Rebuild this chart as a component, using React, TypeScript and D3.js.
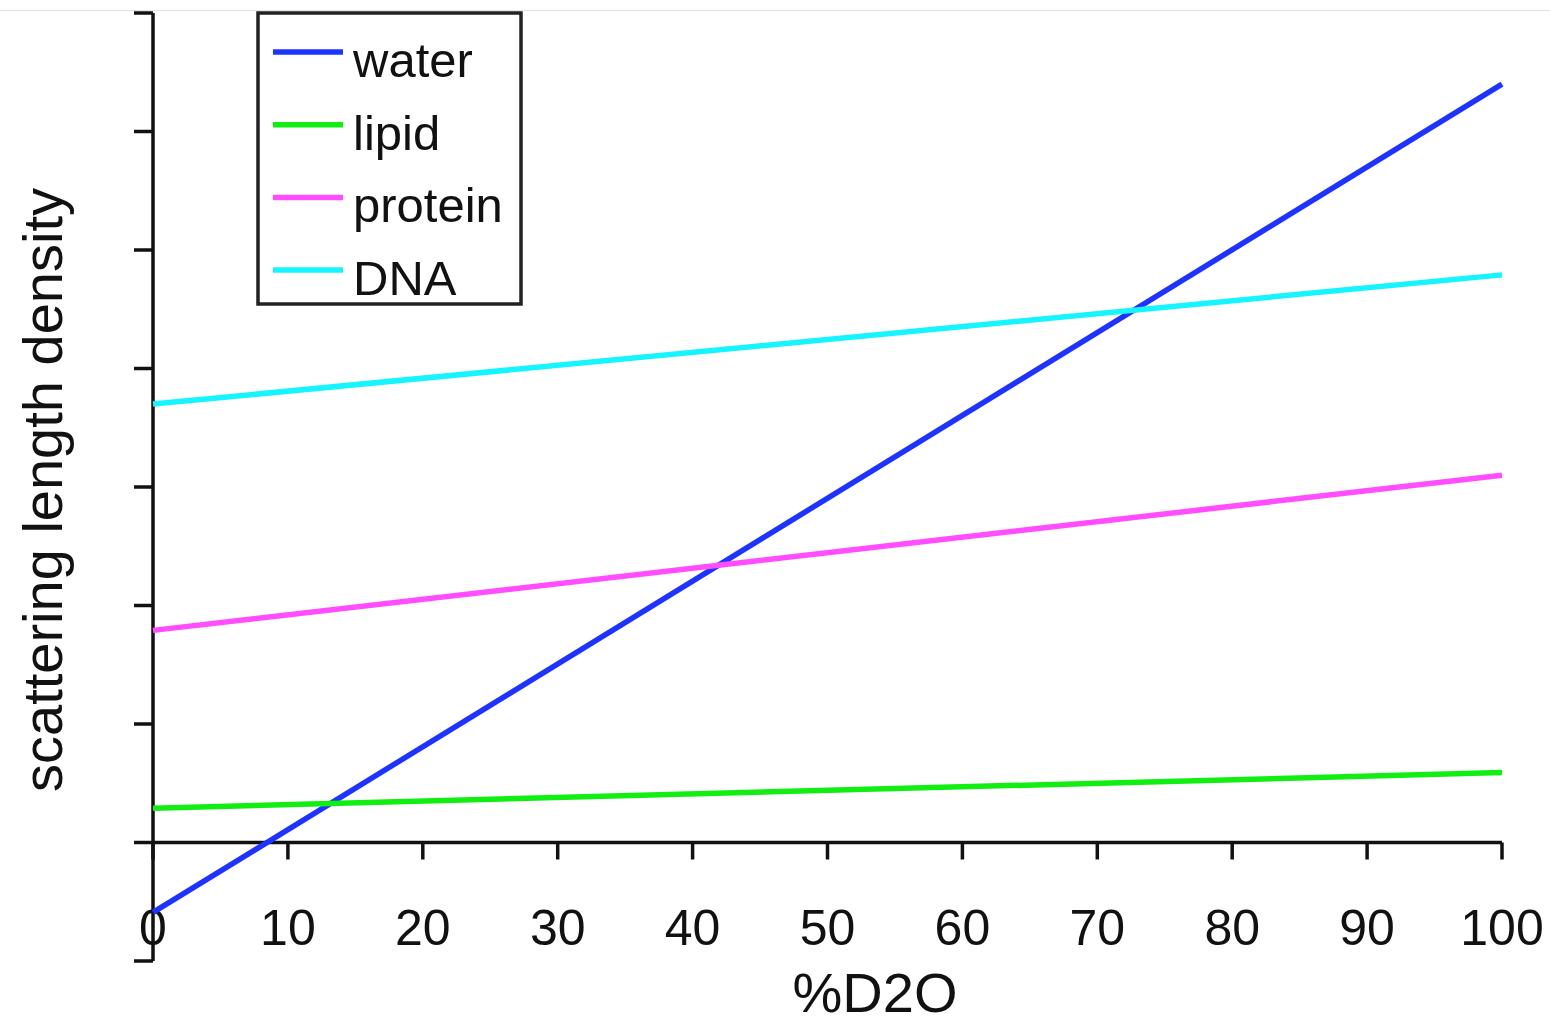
import React from 'react';
import * as d3 from 'd3';

// % D2O at the two ends of each line
const d2o = [0, 100];
const series = ['water', 'lipid', 'protein', 'DNA'];
const waterSld = [-0.59, 6.4];
const lipidSld = [0.29, 0.59];
const proteinSld = [1.79, 3.1];
const dnaSld = [3.7, 4.79];
const colors = ['#1f33ff', '#11ee11', '#ff4dff', '#16f5ff'];
const xTicks = [0, 10, 20, 30, 40, 50, 60, 70, 80, 90, 100];
const yTicks = [-1, 0, 1, 2, 3, 4, 5, 6, 7];

const W = 1550;
const H = 1023;
const font = '"Liberation Sans", Arial, sans-serif';

const App = () => {
  const x = d3.scaleLinear().domain([0, 100]).range([153, 1502]);
  const y = d3.scaleLinear().domain([-1, 7]).range([961, 13]);

  const values = [waterSld, lipidSld, proteinSld, dnaSld];
  const line = d3.line<[number, number]>()
    .x(d => x(d[0]))
    .y(d => y(d[1]));

  return (
    <svg width={W} height={H} style={{ position: 'absolute', left: 0, top: 0, background: '#fff' }}>
      <line x1={0} x2={W} y1={10.5} y2={10.5} stroke="#e2e2e2" strokeWidth={1} />

      {/* y axis */}
      <line x1={x(0)} x2={x(0)} y1={y(7)} y2={y(-1)} stroke="#111" strokeWidth={3.5} />
      {yTicks.map(t => (
        <line key={'y' + t} x1={x(0) - 19} x2={x(0)} y1={y(t)} y2={y(t)} stroke="#111" strokeWidth={3.5} />
      ))}

      {/* x axis at zero */}
      <line x1={x(0)} x2={x(100)} y1={y(0)} y2={y(0)} stroke="#111" strokeWidth={3.5} />
      {xTicks.map(t => (
        <g key={'x' + t}>
          <line x1={x(t)} x2={x(t)} y1={y(0)} y2={y(0) + 17} stroke="#111" strokeWidth={3.5} />
          <text x={x(t)} y={945} textAnchor="middle" fontFamily={font} fontSize={50} fill="#111">{t}</text>
        </g>
      ))}

      {values.map((v, i) => (
        <path
          key={series[i]}
          d={line(d2o.map((d, j) => [d, v[j]] as [number, number])) || ''}
          fill="none"
          stroke={colors[i]}
          strokeWidth={5.5}
        />
      ))}

      <text x={875} y={1012} textAnchor="middle" fontFamily={font} fontSize={56} fill="#111">%D2O</text>
      <text
        transform="translate(62,490) rotate(-90)"
        textAnchor="middle"
        fontFamily={font}
        fontSize={56}
        fill="#111"
      >scattering length density</text>

      {/* legend */}
      <rect x={258} y={13} width={263} height={291} fill="#fff" stroke="#222" strokeWidth={3.5} />
      {series.map((s, i) => (
        <g key={'leg' + s}>
          <line x1={273} x2={343} y1={52 + i * 72.7} y2={52 + i * 72.7} stroke={colors[i]} strokeWidth={5.5} />
          <text x={353} y={77 + i * 72.7} fontFamily={font} fontSize={49} fill="#111">{s}</text>
        </g>
      ))}
    </svg>
  );
};

export default App;
